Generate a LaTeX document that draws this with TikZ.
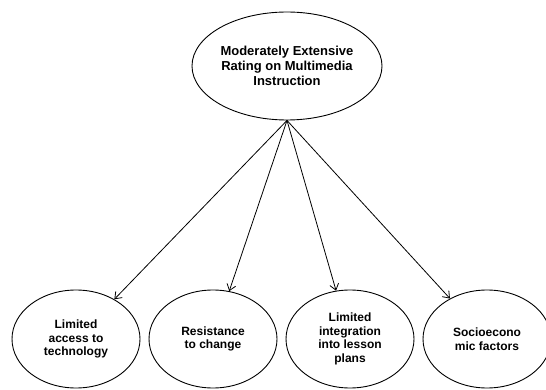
\documentclass[tikz,border=0pt]{standalone}
\usepackage{fontspec}
\setmainfont{Liberation Sans}
\usetikzlibrary{shapes.geometric,arrows.meta}
\begin{document}
\begin{tikzpicture}[x=1pt,y=-1pt,
  oval/.style={ellipse,draw,line width=0.9pt,inner sep=0pt,align=center,font=\bfseries},
  topoval/.style={oval,minimum width=190pt,minimum height=108pt,
    font=\fontsize{13}{15}\selectfont\bfseries},
  leaf/.style={oval,minimum width=128pt,minimum height=98pt,
    font=\fontsize{12}{13.5}\selectfont\bfseries},
  link/.style={draw,line width=0.8pt,-{Straight Barb[length=6pt,width=9pt]}}]
\useasboundingbox (0,0) rectangle (546,390);
\fill[white] (0,0) rectangle (546,390);
\node[topoval] (top) at (287,66) {Moderately Extensive\\Rating on Multimedia\\Instruction};
\node[leaf] (a) at (76,339) {Limited\\access to\\technology};
\node[leaf] (b) at (213,339) {Resistance\\to change};
\node[leaf] (c) at (350,339) {Limited\\integration\\into lesson\\plans};
\node[leaf] (d) at (487,339) {Socioecono\\mic factors};
\foreach \n in {a,b,c,d} \path[link] (top.south) -- (\n);
\end{tikzpicture}
\end{document}
